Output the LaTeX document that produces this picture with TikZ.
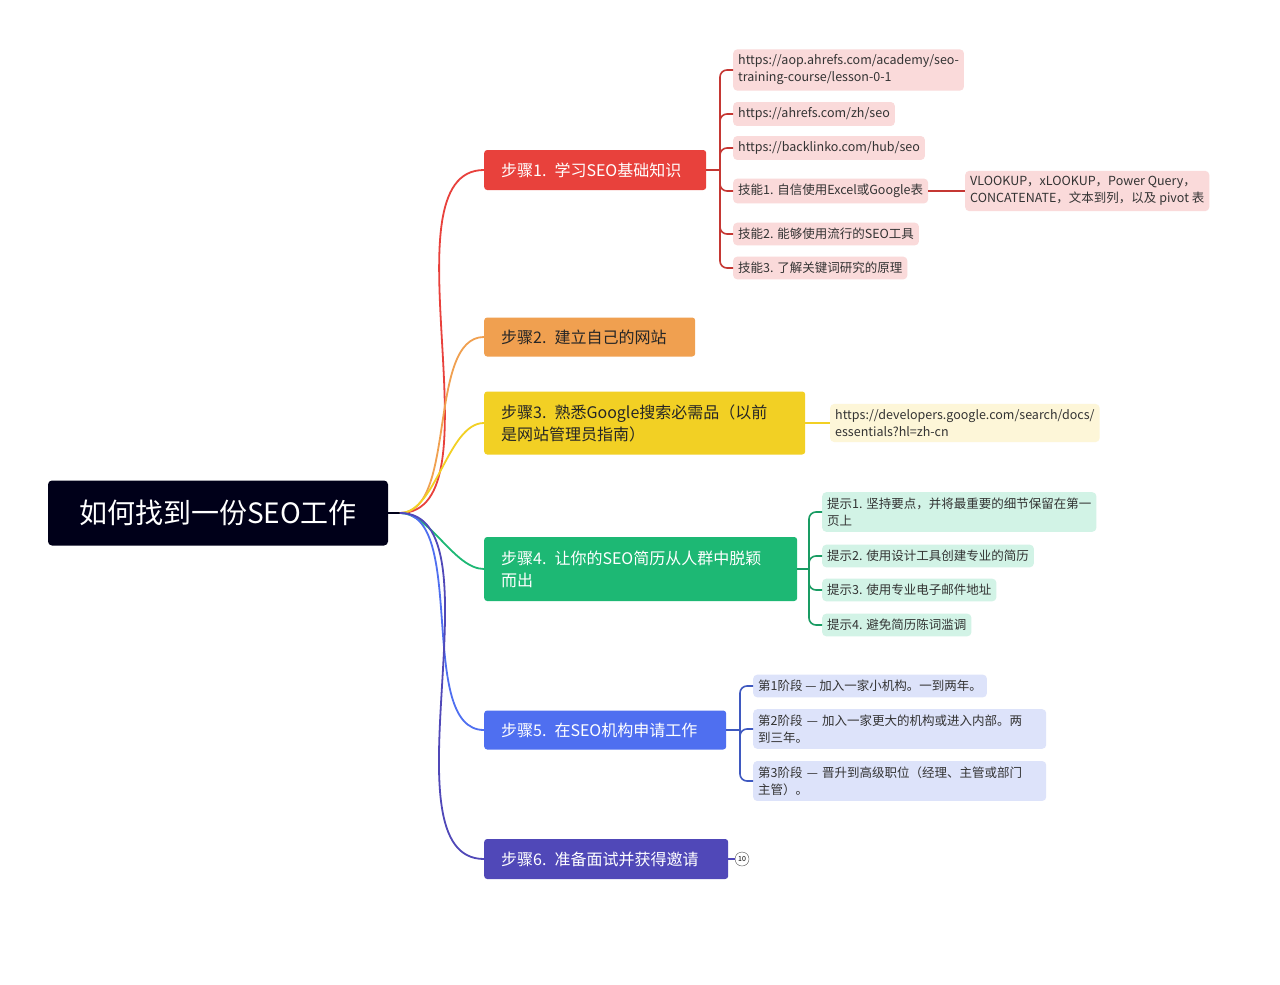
\documentclass[tikz,border=0pt]{standalone}
\usepackage{fontspec}
\setmainfont{Noto Sans CJK SC}
\begin{document}
\begin{tikzpicture}[x=1pt,y=-1pt,
  stepbox/.style={rounded corners=3pt,anchor=west,inner xsep=0pt,inner ysep=6pt,font=\fontsize{16}{22}\selectfont,text=white},
  leaf/.style={rounded corners=4pt,anchor=west,inner xsep=5pt,inner ysep=5.5pt,font=\fontsize{12.5}{17}\selectfont,text=black!80,align=left},
  conn/.style={line width=1.6pt,rounded corners=7pt},
  rootconn/.style={line width=1.8pt}]
\definecolor{cred}{HTML}{E8413C}\definecolor{cora}{HTML}{F0A050}
\definecolor{cyel}{HTML}{F2D024}\definecolor{cgrn}{HTML}{1DB874}
\definecolor{cblu}{HTML}{4F6FF0}\definecolor{cpur}{HTML}{5048B8}
\definecolor{pred}{HTML}{FADADA}\definecolor{pyel}{HTML}{FDF6D8}
\definecolor{pgrn}{HTML}{D2F3E6}\definecolor{pblu}{HTML}{DDE3FA}
\useasboundingbox[fill=white] (0,0) rectangle (1280,985);
\node[rounded corners=4pt,fill=black!90!blue,text=white,minimum width=340pt,minimum height=65pt,font=\fontsize{28}{30}\selectfont] (root) at (218,513) {如何找到一份SEO工作};
\coordinate (r) at (400,513);
\draw[rootconn,black!90!blue] (root.east) -- (r);
\node[stepbox,fill=cred,minimum height=40pt,minimum width=222pt,text width=188pt] (s1) at (484,170) {步骤1. 学习SEO基础知识};
\node[stepbox,fill=cora,minimum height=39pt,minimum width=211pt,text width=177pt,text=black!85] (s2) at (484,337) {步骤2. 建立自己的网站};
\node[stepbox,fill=cyel,minimum height=63pt,minimum width=321pt,text width=287pt,text=black!85,align=left] (s3) at (484,423) {步骤3. 熟悉Google搜索必需品（以前\\是网站管理员指南）};
\node[stepbox,fill=cgrn,minimum height=64pt,minimum width=313pt,text width=279pt,align=left] (s4) at (484,569) {步骤4. 让你的SEO简历从人群中脱颖\\而出};
\node[stepbox,fill=cblu,minimum height=39pt,minimum width=242pt,text width=208pt] (s5) at (484,730) {步骤5. 在SEO机构申请工作};
\node[stepbox,fill=cpur,minimum height=40pt,minimum width=244pt,text width=210pt] (s6) at (484,859) {步骤6. 准备面试并获得邀请};
\foreach \s/\c in {s1/cred,s2/cora,s3/cyel,s4/cgrn,s5/cblu,s6/cpur}
  \draw[rootconn,\c] (r) to[out=0,in=180,looseness=0.75] (\s.west);
% step1 children
\node[leaf,fill=pred] (a1) at (733,70) {https://aop.ahrefs.com/academy/seo-\\training-course/lesson-0-1};
\node[leaf,fill=pred] (a2) at (733,114) {https://ahrefs.com/zh/seo};
\node[leaf,fill=pred] (a3) at (733,148) {https://backlinko.com/hub/seo};
\node[leaf,fill=pred] (a4) at (733,191) {技能1. 自信使用Excel或Google表};
\node[leaf,fill=pred] (a5) at (733,234) {技能2. 能够使用流行的SEO工具};
\node[leaf,fill=pred] (a6) at (733,268) {技能3. 了解关键词研究的原理};
\node[leaf,fill=pred] (a7) at (965,191) {VLOOKUP，xLOOKUP，Power Query，\\CONCATENATE，文本到列，以及 pivot 表};
\coordinate (b1) at (720,170);
\draw[conn,cred!85!black] (s1.east) -- (b1);
\foreach \n in {a1,a2,a3,a4,a5,a6} \draw[conn,cred!85!black] (b1) |- (\n.west);
\draw[conn,cred!85!black] (a4.east) -- (a7.west);
% step3 child
\node[leaf,fill=pyel] (y1) at (830,423) {https://developers.google.com/search/docs/\\essentials?hl=zh-cn};
\draw[conn,cyel] (s3.east) -- (y1.west);
% step4 children
\node[leaf,fill=pgrn] (g1) at (822,512) {提示1. 坚持要点，并将最重要的细节保留在第一\\页上};
\node[leaf,fill=pgrn] (g2) at (822,556) {提示2. 使用设计工具创建专业的简历};
\node[leaf,fill=pgrn] (g3) at (822,590) {提示3. 使用专业电子邮件地址};
\node[leaf,fill=pgrn] (g4) at (822,625) {提示4. 避免简历陈词滥调};
\coordinate (b4) at (809,569);
\draw[conn,cgrn!85!black] (s4.east) -- (b4);
\foreach \n in {g1,g2,g3,g4} \draw[conn,cgrn!85!black] (b4) |- (\n.west);
% step5 children
\node[leaf,fill=pblu] (p1) at (753,686) {第1阶段 — 加入一家小机构。一到两年。};
\node[leaf,fill=pblu,text width=283pt] (p2) at (753,729) {第2阶段 — 加入一家更大的机构或进入内部。两\\到三年。};
\node[leaf,fill=pblu,text width=283pt] (p3) at (753,781) {第3阶段 — 晋升到高级职位（经理、主管或部门\\主管）。};
\coordinate (b5) at (740,730);
\draw[conn,cblu!80!black] (s5.east) -- (b5);
\foreach \n in {p1,p2,p3} \draw[conn,cblu!80!black] (b5) |- (\n.west);
% step6 badge
\node[circle,draw=black!70,fill=white,inner sep=0pt,minimum size=14pt,font=\fontsize{7}{8}\selectfont] (c6) at (742,859) {10};
\draw[line width=1.2pt,cpur] (s6.east) -- (c6.west);
\end{tikzpicture}
\end{document}
